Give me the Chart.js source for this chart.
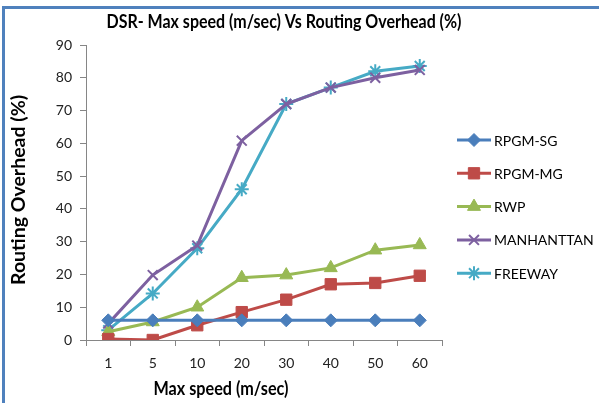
<!DOCTYPE html>
<html>
<head>
<meta charset="utf-8">
<script src="https://cdn.jsdelivr.net/npm/chart.js@4"></script>
<style>
  html, body { margin: 0; padding: 0; background: #fff; }
  #frame {
    position: absolute; left: 2px; top: 6px;
    width: 594px; height: 397px;
    border-left: 3px solid #4f81bd; border-top: 3px solid #4f81bd;
  }
  #chart { display: block; }
</style>
</head>
<body>
<div id="frame"><canvas id="chart" width="594" height="394"></canvas></div>
<script>
// Max speed categories
const speeds = ['1', '5', '10', '20', '30', '40', '50', '60'];

// Routing overhead (%) per mobility model
const rpgmSg = [6, 6, 6, 6, 6, 6, 6, 6];
const rpgmMg = [0.3, 0, 4.5, 8.5, 12.3, 17, 17.4, 19.6];
const rwp = [2.5, 5.5, 10, 19, 19.8, 22, 27.4, 29];
const manhattan = [5, 19.8, 28.8, 60.8, 72, 77, 80, 82.4];
const freeway = [3, 14.2, 28, 46, 72, 77, 82, 83.6];

const yTicks = [0, 10, 20, 30, 40, 50, 60, 70, 80, 90];

const FONT = 'Lato, "Open Sans", sans-serif';

function makeSeries(label, data, color, style, radius, bw) {
    return {
        label: label,
        data: data,
        borderColor: color,
        backgroundColor: color,
        borderWidth: 3,
        pointStyle: style,
        pointRadius: radius,
        pointHoverRadius: radius,
        pointBorderWidth: bw,
        pointBorderColor: color,
        pointBackgroundColor: color,
        tension: 0
    };
}

// draw text squeezed horizontally to a target width (Calibri is narrow)
function drawFitted(ctx, text, cx, cy, width, font) {
    ctx.save();
    ctx.font = font;
    const w = ctx.measureText(text).width;
    ctx.translate(cx, cy);
    ctx.scale(width / w, 1);
    ctx.textAlign = 'center';
    ctx.textBaseline = 'middle';
    ctx.fillText(text, 0, 0);
    ctx.restore();
}

const textPlugin = {
    id: 'texts',
    afterDraw(chart) {
        const ctx = chart.ctx;
        ctx.save();
        ctx.fillStyle = '#000';

        // main title
        drawFitted(ctx, 'DSR- Max speed (m/sec) Vs Routing Overhead (%)',
            284 - 5, 22 - 9, 355, 'bold 18px ' + FONT);

        // x title
        drawFitted(ctx, 'Max speed (m/sec)', 221 - 5, 389 - 9, 135, 'bold 18px ' + FONT);

        // y title
        ctx.save();
        ctx.translate(19 - 5, 190 - 9);
        ctx.rotate(-Math.PI / 2);
        drawFitted(ctx, 'Routing Overhead (%)', 0, 0, 190, 'bold 18px ' + FONT);
        ctx.restore();
        ctx.restore();

        // legend
        ctx.save();
        const x0 = 457 - 5, x1 = 491 - 5;
        chart.data.datasets.forEach((ds, i) => {
            const y = 140 + i * 33.3 - 9;
            ctx.strokeStyle = ds.borderColor;
            ctx.fillStyle = ds.borderColor;
            ctx.lineWidth = 3;
            ctx.beginPath();
            ctx.moveTo(x0, y);
            ctx.lineTo(x1, y);
            ctx.stroke();
            ctx.lineWidth = ds.pointBorderWidth;
            Chart.helpers.drawPoint(ctx, {
                pointStyle: ds.pointStyle,
                radius: ds.pointRadius,
                borderWidth: ds.pointBorderWidth,
                rotation: 0
            }, (x0 + x1) / 2, y);
            ctx.fillStyle = '#000';
            ctx.font = '14px ' + FONT;
            ctx.textAlign = 'left';
            ctx.textBaseline = 'middle';
            ctx.fillText(ds.label, x1 + 3, y + 1);
        });
        ctx.restore();
    }
};

new Chart(document.getElementById('chart').getContext('2d'), {
    type: 'line',
    data: {
        labels: speeds,
        datasets: [
            makeSeries('RPGM-SG', rpgmSg, '#4a7ebb', 'rectRot', 6.5, 1),
            makeSeries('RPGM-MG', rpgmMg, '#be4b48', 'rect', 8, 1),
            makeSeries('RWP', rwp, '#98b954', 'triangle', 7.5, 1),
            makeSeries('MANHANTTAN', manhattan, '#7d60a0', 'crossRot', 7, 2),
            makeSeries('FREEWAY', freeway, '#46aac5', 'star', 7, 2)
        ]
    },
    options: {
        responsive: false,
        animation: false,
        layout: { padding: { left: 0, right: 157, top: 36, bottom: 0 } },
        plugins: {
            legend: { display: false },
            title: { display: false },
            tooltip: { enabled: false }
        },
        scales: {
            x: {
                offset: true,
                grid: {
                    offset: true,
                    drawOnChartArea: false,
                    tickLength: 6,
                    color: '#868686'
                },
                border: { color: '#868686' },
                ticks: {
                    color: '#222',
                    font: { family: FONT, size: 14 },
                    padding: 9,
                    maxRotation: 0
                },
                afterFit: function(scale) { scale.height = 63; }
            },
            y: {
                min: 0,
                max: 90,
                afterBuildTicks: function(scale) {
                    scale.ticks = yTicks.map(v => ({ value: v }));
                },
                grid: {
                    drawOnChartArea: false,
                    tickLength: 6,
                    color: '#868686'
                },
                border: { color: '#868686' },
                ticks: {
                    color: '#222',
                    font: { family: FONT, size: 14 },
                    padding: 8
                },
                afterFit: function(scale) { scale.width = 81; }
            }
        }
    },
    plugins: [textPlugin]
});
</script>
</body>
</html>
